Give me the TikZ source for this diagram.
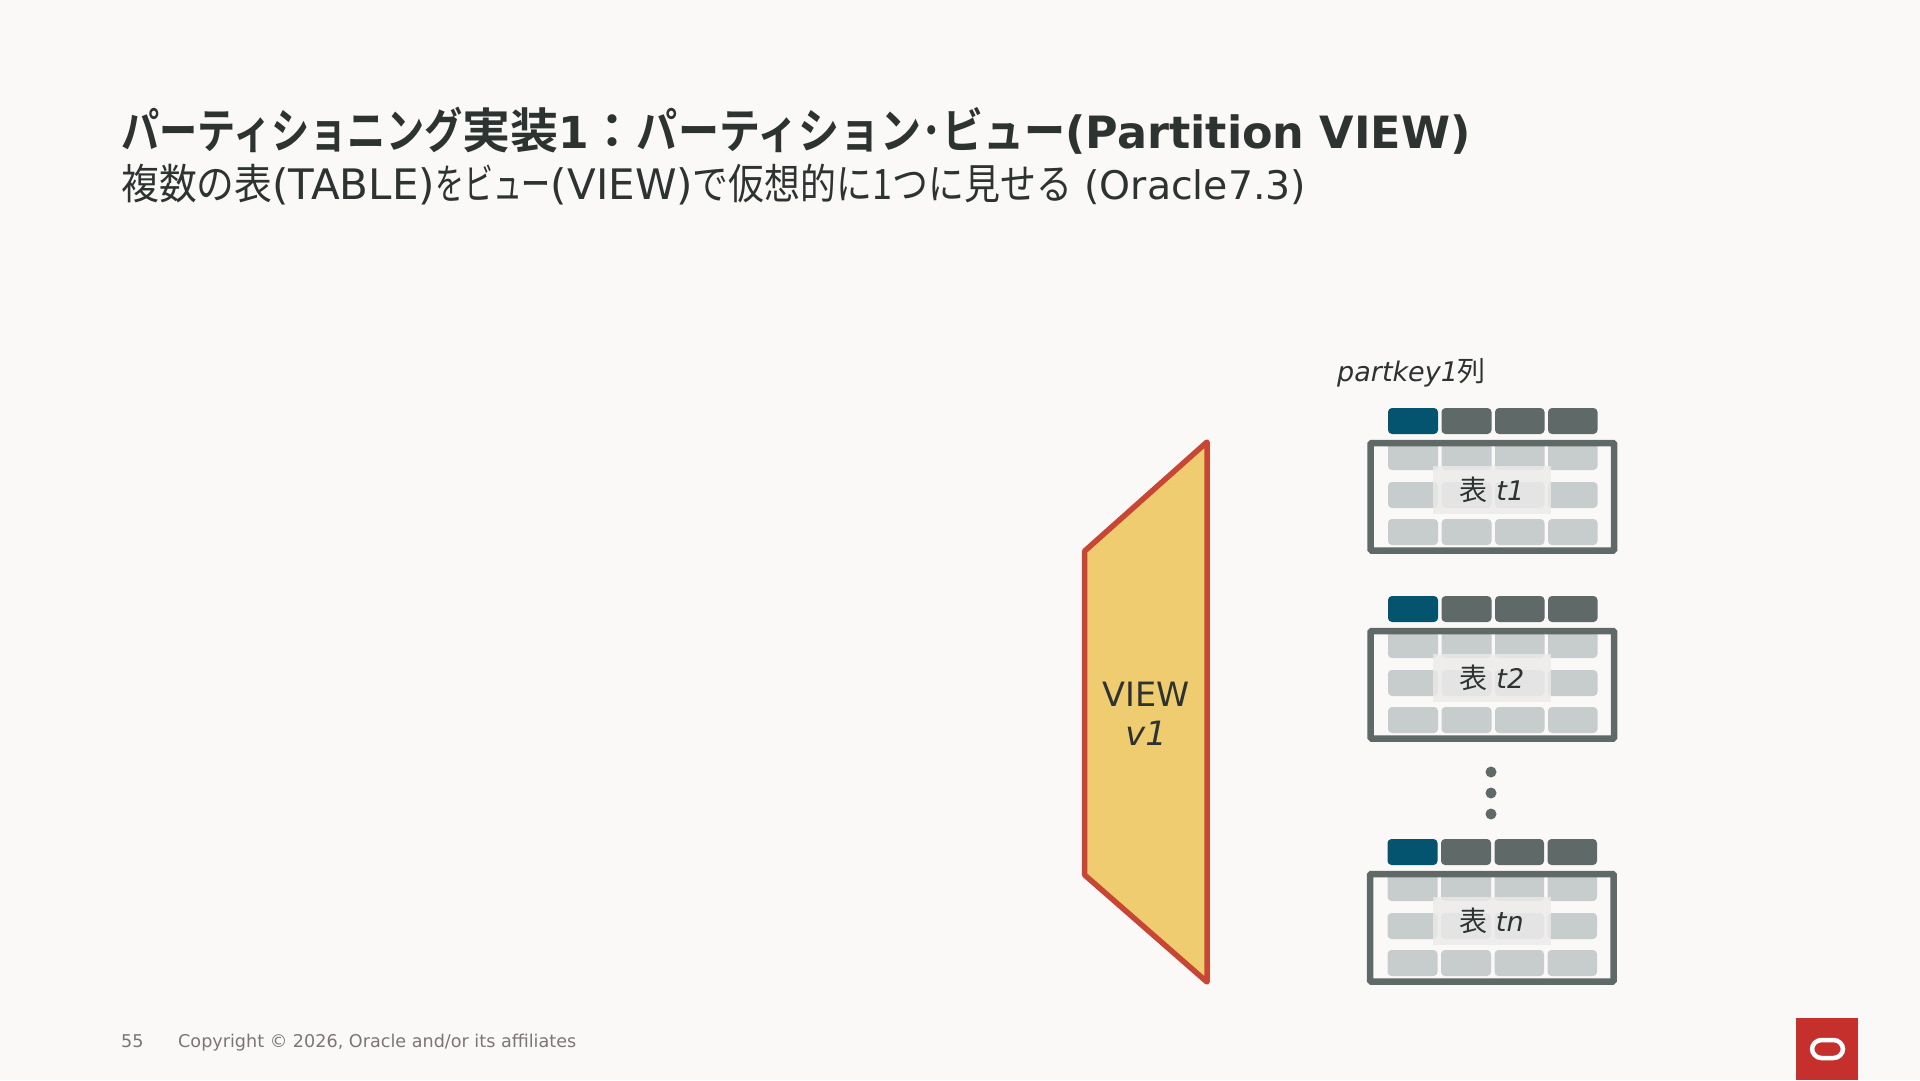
\documentclass[tikz,border=0pt]{standalone}
\usepackage{fontspec}
\setmainfont{DejaVu Sans}
\newfontfamily\jpa[FakeStretch=0.90]{Noto Sans CJK JP}
\newfontfamily\jpk[FakeStretch=0.69]{Noto Sans CJK JP}
\newfontfamily\jpm[FakeStretch=0.855]{Noto Sans CJK JP}
\newfontfamily\jp{Noto Sans CJK JP}
\newfontfamily\jpb{Noto Sans CJK JP Bold}
\newfontfamily\jpbk[FakeStretch=0.795]{Noto Sans CJK JP Bold}
\newfontfamily\jpbl[FakeStretch=0.855]{Noto Sans CJK JP Bold}
\newfontfamily\lat{DejaVu Sans}
\newfontfamily\latb{DejaVu Sans Bold}
\definecolor{bgc}{HTML}{FBF9F8}
\definecolor{ink}{HTML}{2C3331}
\definecolor{frm}{HTML}{5F6A68}
\definecolor{pk}{HTML}{04536F}
\definecolor{rowc}{HTML}{C7CCCC}
\definecolor{labc}{HTML}{ECEBEA}
\definecolor{vfill}{HTML}{F0CC71}
\definecolor{vline}{HTML}{C74634}
\definecolor{logoc}{HTML}{C5302D}
\definecolor{foot}{HTML}{7A7674}
\tikzset{
  hdr/.style={fill=frm,rounded corners=4},
  keyc/.style={fill=pk,rounded corners=4},
  rowcell/.style={fill=rowc,rounded corners=4},
  tabframe/.style={draw=frm,line width=6.5,rounded corners=1},
  tablab/.style={fill=labc,fill opacity=.8,text opacity=1,text=ink,minimum width=118,minimum height=48,inner sep=0,font=\fontsize{27}{30}\selectfont},
  dotc/.style={circle,fill=frm,inner sep=0,minimum size=11},
  txt/.style={inner sep=0,text=ink,anchor=base west}
}
\newcommand{\tabl}[4]{%
 \begin{scope}[shift={(#1,#2)}]
  \fill[keyc] (1388,408) rectangle (1438,434);
  \fill[hdr] (1441.5,408) rectangle (1491.5,434);
  \fill[hdr] (1495,408) rectangle (1544.5,434);
  \fill[hdr] (1548,408) rectangle (1597.5,434);
  \foreach \xa/\xb in {1388/1438,1441.5/1491.5,1495/1544.5,1548/1597.5}{
   \fill[rowcell] (\xa,443) rectangle (\xb,470);
   \fill[rowcell] (\xa,482) rectangle (\xb,508);
   \fill[rowcell] (\xa,519) rectangle (\xb,545);
  }
  \draw[tabframe] (1370.7,443) rectangle (1614,550.5);
  \node[tablab] (#3) at (1492,490) {{\fontsize{28}{30}\selectfont\jp 表} \textit{#4}};
 \end{scope}}
\begin{document}
\begin{tikzpicture}[x=1pt,y=-1pt]
\useasboundingbox (0,0) rectangle (1920,1080);
\fill[bgc] (0,0) rectangle (1920,1080);
\node[txt,font=\fontsize{48}{50}\selectfont] (title) at (121,148) {{\jpbk パーティショニング}{\jpb 実装}{\fontsize{44}{50}\selectfont\latb 1}{\jpb ：}{\jpbl パーティション･ビュー}{\fontsize{44.5}{50}\selectfont\latb (Partition VIEW)}};
\node[txt,font=\fontsize{42}{44}\selectfont] (sub) at (121,199) {{\jpa 複数の表}{\lat (TABLE)}{\jpk をビュー}{\lat (VIEW)}{\jpm で仮想的に1つに見せる}{\fontsize{39.4}{44}\selectfont\lat\ (Oracle7.3)}};
\node[txt,font=\fontsize{27}{30}\selectfont] (pk) at (1337,381) {\textit{partkey1}{\fontsize{28}{30}\selectfont\jp 列}};
\draw[draw=vline,fill=vfill,line width=5.5,line join=round] (1207,442) -- (1084.7,551) -- (1084.7,875) -- (1207,982) -- cycle;
\node[inner sep=0,text=ink,align=center,font=\fontsize{33.5}{39}\selectfont] (view) at (1146,714) {VIEW\\\textit{v1}};
\tabl{0}{0}{t1}{t1}
\tabl{0}{188}{t2}{t2}
\tabl{-0.5}{431}{tn}{tn}
\node[dotc] (d1) at (1491,772) {};
\node[dotc] (d2) at (1491,793) {};
\node[dotc] (d3) at (1491,814) {};
\node[inner sep=0,anchor=base west,text=foot,font=\fontsize{17.6}{20}\selectfont] (pg) at (121,1047) {55};
\node[inner sep=0,anchor=base west,text=foot,font=\fontsize{17.6}{20}\selectfont] (cr) at (178,1047) {Copyright © 2026, Oracle and/or its affiliates};
\fill[logoc] (1796,1018) rectangle (1858,1080);
\draw[white,line width=4.5,rounded corners=9.5] (1812,1040) rectangle (1843,1058);
\end{tikzpicture}
\end{document}
